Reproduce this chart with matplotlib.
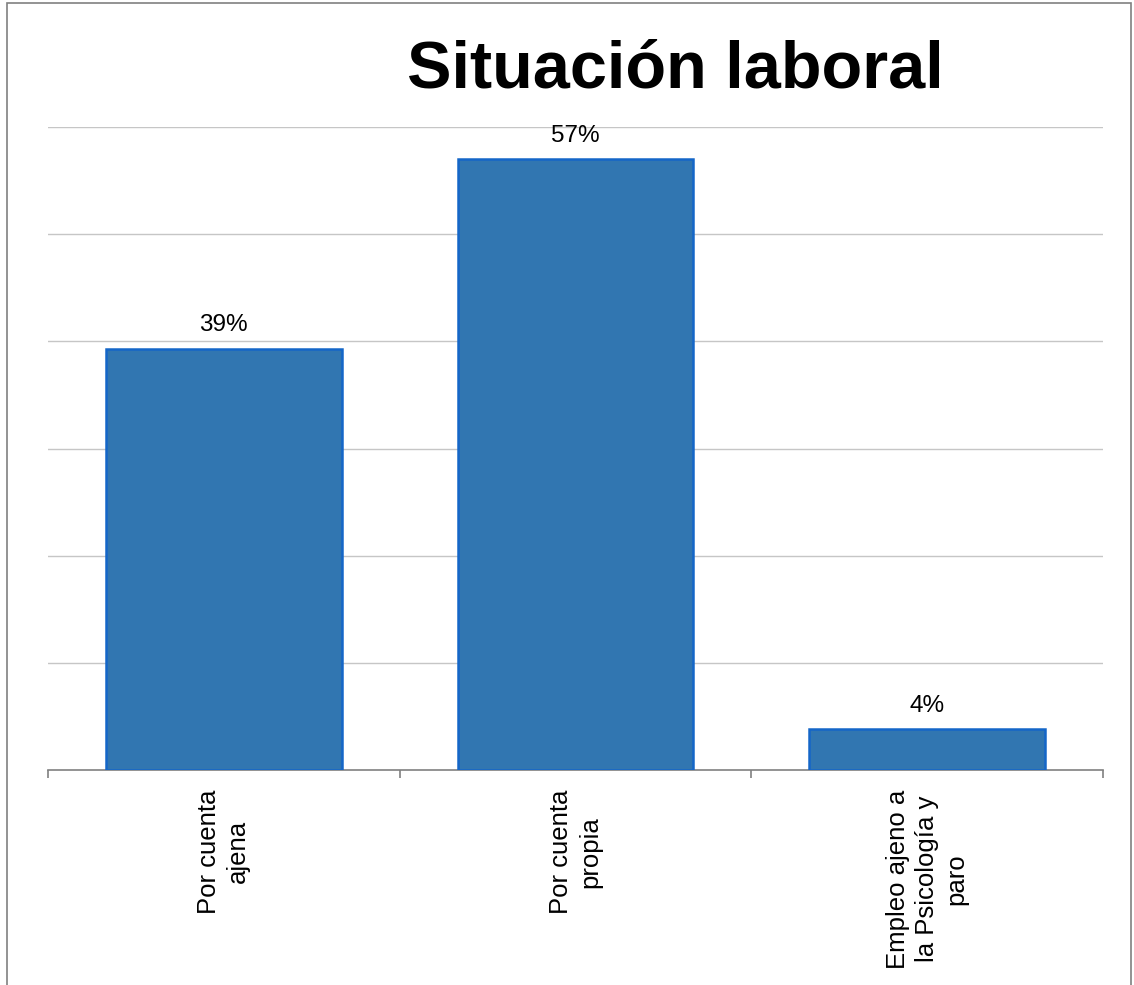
import matplotlib
matplotlib.use("Agg")
import matplotlib.pyplot as plt
from matplotlib.patches import Rectangle

categories = ["Por cuenta\najena", "Por cuenta\npropia", "Empleo ajeno a\nla Psicología y\nparo"]
values = [39.3, 57.0, 3.8]
value_labels = ["39%", "57%", "4%"]
title = "Situación laboral"

fig = plt.figure(figsize=(11.34, 9.85), dpi=100)
fig.patch.set_facecolor("white")
ax = fig.add_axes([48/1134, 1-770/985, (1103-48)/1134, (770-127)/985])

x = list(range(len(categories)))
bars = ax.bar(x, values, width=0.67, color="#3176B1", edgecolor="#1466C8", linewidth=1.8, zorder=3)
ax.bar_label(bars, labels=value_labels, padding=9, fontsize=17.5, family="Liberation Sans")

ax.set_xlim(-0.5, len(categories) - 0.5)
ax.set_ylim(0, 60)
ax.set_yticks([10, 20, 30, 40, 50, 60])
ax.yaxis.grid(True, color="#C6C6C6", linewidth=1.0, zorder=0)
ax.tick_params(axis="y", left=False, labelleft=False)

ax.set_xticks(x)
ax.set_xticklabels(categories, rotation=90, ha="center", va="top", multialignment="center",
                   fontsize=18.5, family="Liberation Sans", linespacing=1.25)
ax.tick_params(axis="x", which="major", length=0, pad=14)
ax.set_xticks([-0.5, 0.5, 1.5, 2.5], minor=True)
ax.tick_params(axis="x", which="minor", length=6, color="#808080", width=1.2)

for s in ["left", "right", "top"]:
    ax.spines[s].set_visible(False)
ax.spines["bottom"].set_color("#808080")
ax.spines["bottom"].set_linewidth(1.2)

fig.text(675/1134, 1-88/985, title, ha="center", va="baseline", fontsize=48,
         fontweight="bold", family="Liberation Sans")

fig.patches.append(Rectangle((7/1134, -0.02), (1131-7)/1134, 1.02 - 3/985,
                             transform=fig.transFigure, fill=False, edgecolor="#808080", linewidth=1.2))

fig.savefig("out.png", dpi=100)
